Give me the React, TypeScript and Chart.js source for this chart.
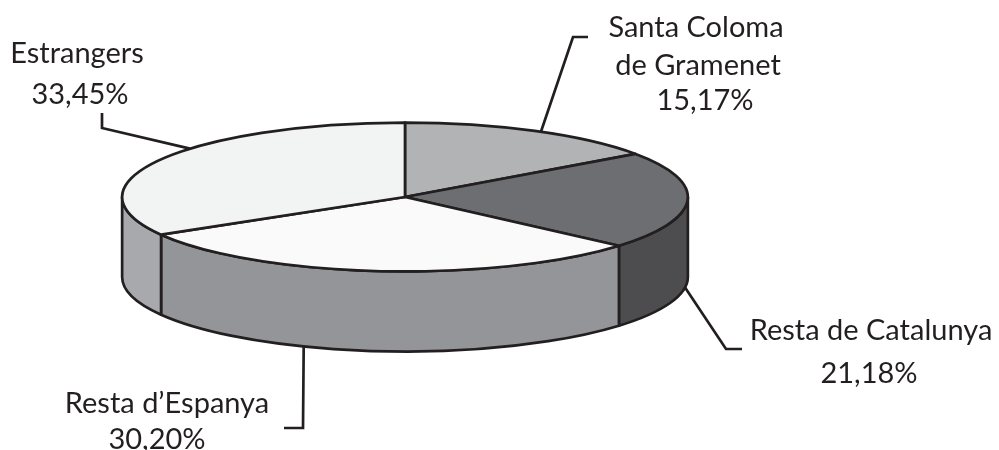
import React, { useEffect, useRef } from 'react';
import { Chart, registerables } from 'chart.js';

Chart.register(...registerables);

// ---- data ----
const categories = ['Santa Coloma de Gramenet', 'Resta de Catalunya', 'Resta d’Espanya', 'Estrangers'];
const shares = [15.17, 21.18, 30.2, 33.45];
const nameLines = [['Santa Coloma', 'de Gramenet'], ['Resta de Catalunya'], ['Resta d’Espanya'], ['Estrangers']];

// ---- style ----
const topColors = ['#b1b3b5', '#6d6e71', '#fafafa', '#f2f3f3'];
const sideColors = ['#8a8c8e', '#4d4d4f', '#939598', '#a7a9ac'];
const INK = '#231f20';
const STRETCH = 285 / 180; // horizontal radius relative to chart radius
const TILT = 75 / 285; // vertical squash of the disc
const DEPTH = 80;
const FONT = '29px Lato, "Open Sans", sans-serif';
const LINE_W = 2.7;

// label layout: f = position along slice for leader anchor; side = anchor on bottom rim
const labelLayout = [
  { f: 0.526, side: false, path: [[573, 37], [588, 37]], x: [696, 698, 705], base: [37, 75, 110] },
  { f: 0.57, side: true, path: [[726, 349], [742, 349]], x: [871, 869], base: [340, 383] },
  { f: 0.645, side: true, path: [[303, 428], [284, 428]], x: [167, 157], base: [413, 449] },
  { f: 0.589, side: false, path: [[102, 128], [102, 113]], x: [77, 80], base: [63, 104] },
];

const fmt = (v: number) => v.toFixed(2).replace('.', ',') + '%';

const pie3d = {
  id: 'pie3d',
  beforeDatasetsDraw(chart: any) {
    const ctx = chart.ctx as CanvasRenderingContext2D;
    const arcs = chart.getDatasetMeta(0).data;
    ctx.save();
    ctx.lineWidth = LINE_W;
    ctx.strokeStyle = INK;
    ctx.lineJoin = 'round';
    // side walls (front half only)
    arcs.forEach((arc: any, i: number) => {
      const { x, y, startAngle, endAngle, outerRadius } = arc.getProps(['x', 'y', 'startAngle', 'endAngle', 'outerRadius'], true);
      const rx = outerRadius * STRETCH;
      const ry = rx * TILT;
      const ranges = [[0, Math.PI], [2 * Math.PI, 3 * Math.PI]];
      for (const [lo, hi] of ranges) {
        const s = Math.max(startAngle, lo);
        const e = Math.min(endAngle, hi);
        if (e <= s) continue;
        ctx.beginPath();
        ctx.ellipse(x, y, rx, ry, 0, s, e);
        ctx.lineTo(x + rx * Math.cos(e), y + DEPTH + ry * Math.sin(e));
        ctx.ellipse(x, y + DEPTH, rx, ry, 0, e, s, true);
        ctx.closePath();
        ctx.fillStyle = sideColors[i];
        ctx.fill();
        ctx.stroke();
      }
    });
    // top faces
    arcs.forEach((arc: any, i: number) => {
      const { x, y, startAngle, endAngle, outerRadius } = arc.getProps(['x', 'y', 'startAngle', 'endAngle', 'outerRadius'], true);
      const rx = outerRadius * STRETCH;
      const ry = rx * TILT;
      ctx.beginPath();
      ctx.moveTo(x, y);
      ctx.ellipse(x, y, rx, ry, 0, startAngle, endAngle);
      ctx.closePath();
      ctx.fillStyle = topColors[i];
      ctx.fill();
      ctx.stroke();
    });
    ctx.restore();
    return false;
  },
  afterDraw(chart: any) {
    const ctx = chart.ctx as CanvasRenderingContext2D;
    const arcs = chart.getDatasetMeta(0).data;
    ctx.save();
    ctx.strokeStyle = INK;
    ctx.fillStyle = INK;
    ctx.lineWidth = LINE_W;
    ctx.lineJoin = 'miter';
    ctx.font = FONT;
    ctx.textAlign = 'center';
    ctx.textBaseline = 'alphabetic';
    arcs.forEach((arc: any, i: number) => {
      const { x, y, startAngle, endAngle, outerRadius } = arc.getProps(['x', 'y', 'startAngle', 'endAngle', 'outerRadius'], true);
      const rx = outerRadius * STRETCH;
      const ry = rx * TILT;
      const L = labelLayout[i];
      const a = startAngle + L.f * (endAngle - startAngle);
      const ax = x + rx * Math.cos(a);
      const ay = y + ry * Math.sin(a) + (L.side ? DEPTH : 0);
      ctx.beginPath();
      ctx.moveTo(ax, ay);
      L.path.forEach(([px, py]) => ctx.lineTo(px, py));
      ctx.stroke();
      const lines = [...nameLines[i], fmt(chart.data.datasets[0].data[i])];
      lines.forEach((t, k) => ctx.fillText(t, L.x[k], L.base[k]));
    });
    ctx.restore();
  },
};

export default function App() {
  const ref = useRef<HTMLCanvasElement | null>(null);
  useEffect(() => {
    if (!ref.current) return;
    const chart = new Chart(ref.current, {
      type: 'pie',
      data: {
        labels: categories,
        datasets: [{ data: shares, backgroundColor: topColors, borderColor: INK, borderWidth: LINE_W }],
      },
      options: {
        responsive: true,
        maintainAspectRatio: false,
        animation: false,
        events: [],
        layout: { padding: { left: 225, right: 414, top: 17, bottom: 73 } },
        plugins: { legend: { display: false }, tooltip: { enabled: false } },
      },
      plugins: [pie3d as any],
    });
    return () => chart.destroy();
  }, []);
  return (
    <div style={{ position: 'absolute', left: 0, top: 0, width: 999, height: 450, background: '#fff' }}>
      <canvas ref={ref} />
    </div>
  );
}
